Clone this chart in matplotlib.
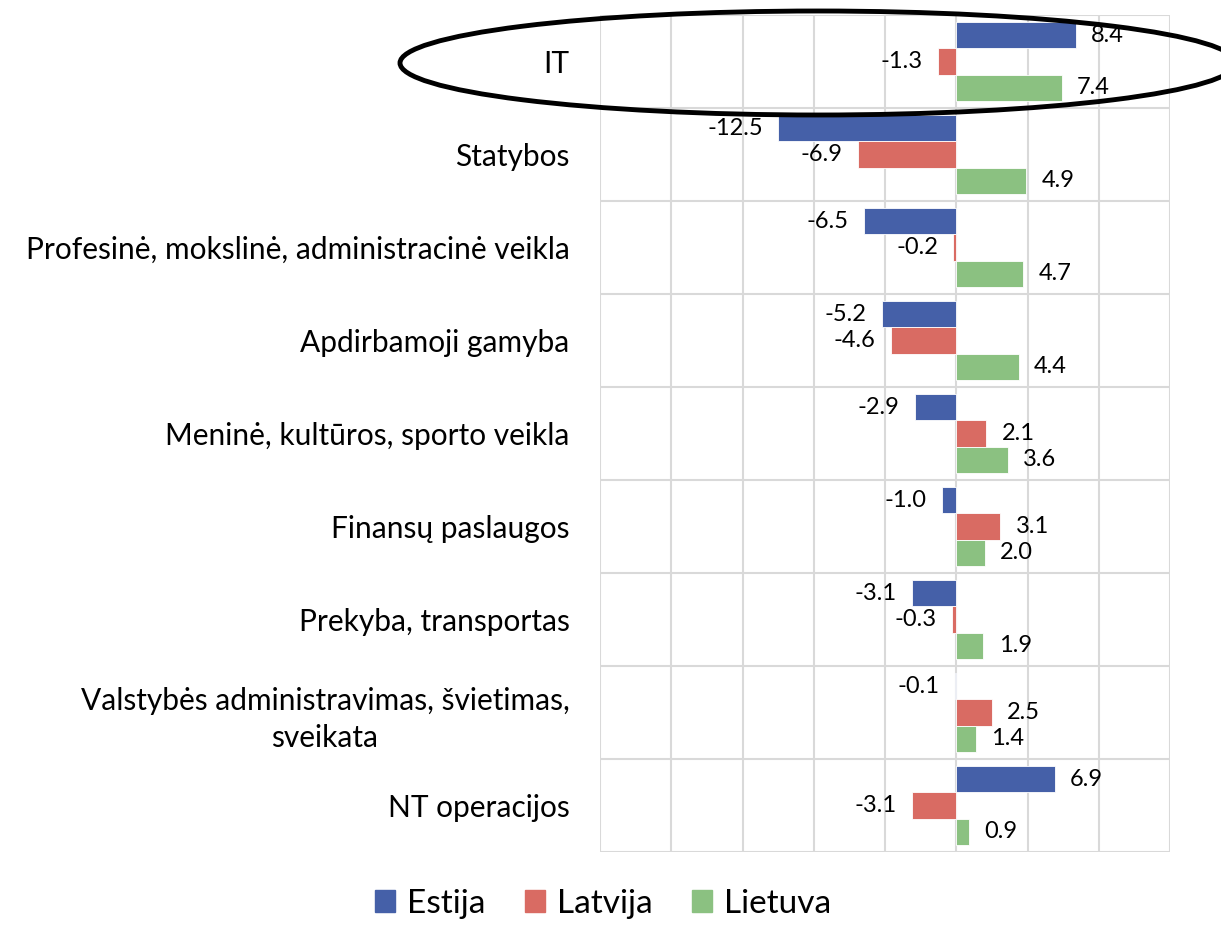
import numpy as np
import matplotlib
matplotlib.use("Agg")
import matplotlib.pyplot as plt
from matplotlib.patches import Ellipse, Patch

plt.rcParams['font.family'] = ['Lato', 'DejaVu Sans']

categories = ['IT', 'Statybos', 'Profesinė, mokslinė, administracinė veikla',
              'Apdirbamoji gamyba', 'Meninė, kultūros, sporto veikla',
              'Finansų paslaugos', 'Prekyba, transportas',
              'Valstybės administravimas, švietimas,\nsveikata', 'NT operacijos']
estija = [8.4, -12.5, -6.5, -5.2, -2.9, -1.0, -3.1, -0.1, 6.9]
latvija = [-1.3, -6.9, -0.2, -4.6, 2.1, 3.1, -0.3, 2.5, -3.1]
lietuva = [7.4, 4.9, 4.7, 4.4, 3.6, 2.0, 1.9, 1.4, 0.9]

series = [('Estija', estija, '#4560A8'),
          ('Latvija', latvija, '#D96B63'),
          ('Lietuva', lietuva, '#8BC181')]

fig = plt.figure(figsize=(12.21, 9.32), dpi=100)
ax = fig.add_axes([600/1221, 1 - 852/932, 570/1221, 837/932])

y = np.arange(len(categories))
h = 0.28
for i, (name, vals, col) in enumerate(series):
    pos = y + (i - 1) * h
    ax.barh(pos, vals, height=h, color=col, edgecolor='white', linewidth=0.6, label=name)
    for yy, v in zip(pos, vals):
        ax.annotate(f'{v:.1f}', xy=(v, yy), xytext=(11 if v > 0 else -11, 0),
                    textcoords='offset points', va='center',
                    ha='left' if v > 0 else 'right', fontsize=17)

ax.set_xlim(-25, 15)
ax.set_ylim(len(categories) - 0.5, -0.5)
ax.set_xticks(np.arange(-25, 16, 5))
ax.set_xticklabels([])
ax.set_yticks(y)
ax.set_yticklabels(categories, fontsize=21.5, multialignment='center', linespacing=1.4)
ax.set_yticks(np.arange(-0.5, len(categories)), minor=True)
ax.tick_params(axis='both', which='both', length=0)
ax.tick_params(axis='y', pad=22)
ax.grid(axis='x', color='#D9D9D9', linewidth=1.5)
ax.grid(axis='y', which='minor', color='#D9D9D9', linewidth=1.5)
ax.set_axisbelow(True)
for s in ax.spines.values():
    s.set_visible(False)

handles = [Patch(color=c, label=n) for n, _, c in series]
fig.legend(handles=handles, loc='lower center', bbox_to_anchor=(0.494, -0.018), ncol=3,
           frameon=False, fontsize=24, handlelength=0.6, handleheight=0.6,
           handletextpad=0.35, columnspacing=1.2)

ell = Ellipse((818/1221, 1 - 63/932), 836/1221, 104/932, transform=fig.transFigure,
              fill=False, edgecolor='black', linewidth=3.5, clip_on=False)
fig.patches.append(ell)

fig.savefig('out.png', dpi=100)
